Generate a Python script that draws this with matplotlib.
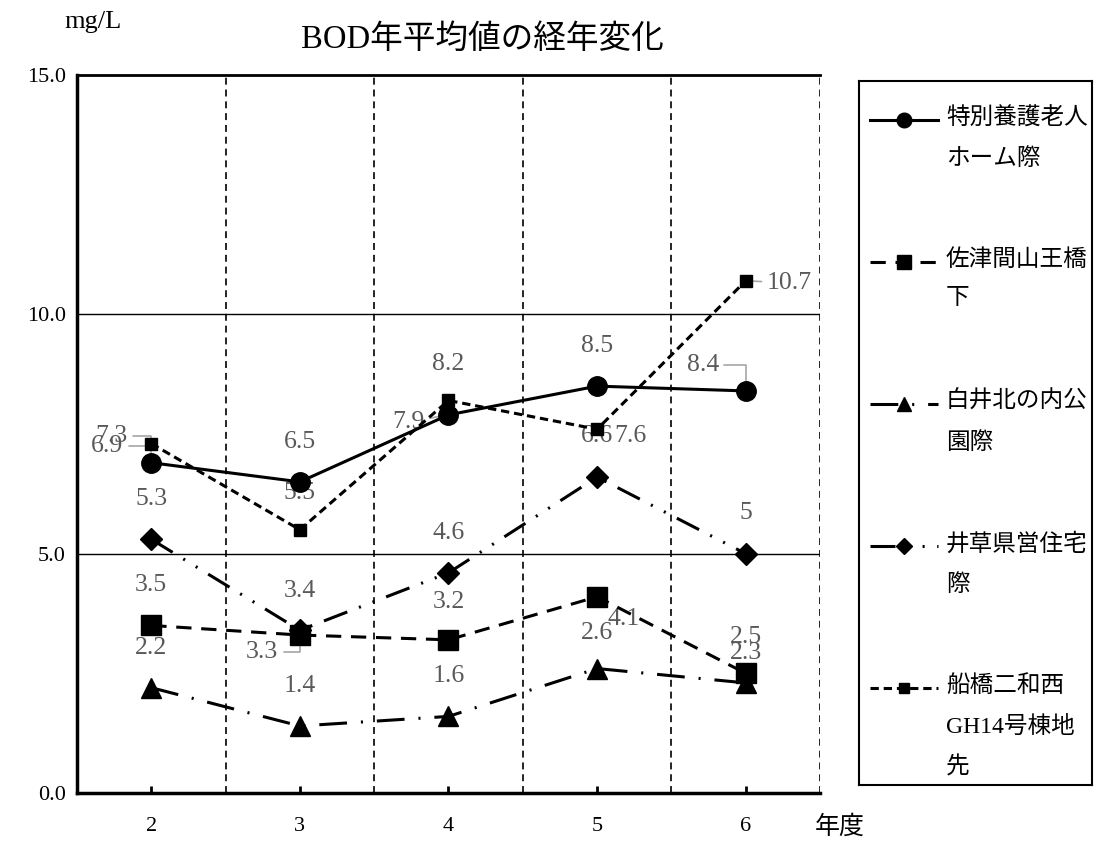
import matplotlib
matplotlib.use("Agg")
import matplotlib.pyplot as plt
from matplotlib.lines import Line2D

plt.rcParams["font.family"] = ["Liberation Serif", "Noto Sans CJK JP"]
plt.rcParams["lines.scale_dashes"] = False

# データ
years = [2, 3, 4, 5, 6]
series_names = [
    "特別養護老人\nホーム際",
    "佐津間山王橋\n下",
    "白井北の内公\n園際",
    "井草県営住宅\n際",
    "船橋二和西\nGH14号棟地\n先",
]
tokubetsu = [6.9, 6.5, 7.9, 8.5, 8.4]
satsuma = [3.5, 3.3, 3.2, 4.1, 2.5]
shiroi = [2.2, 1.4, 1.6, 2.6, 2.3]
igusa = [5.3, 3.4, 4.6, 6.6, 5.0]
funabashi = [7.3, 5.5, 8.2, 7.6, 10.7]
value_labels = [
    ["6.9", "6.5", "7.9", "8.5", "8.4"],
    ["3.5", "3.3", "3.2", "4.1", "2.5"],
    ["2.2", "1.4", "1.6", "2.6", "2.3"],
    ["5.3", "3.4", "4.6", "6.6", "5"],
    ["7.3", "5.5", "8.2", "7.6", "10.7"],
]
y_ticks = [0, 5, 10, 15]

all_values = [tokubetsu, satsuma, shiroi, igusa, funabashi]

# 線種・マーカー
styles = [
    dict(ls="-", marker="o", ms=14),
    dict(dashes=(11, 7), marker="s", ms=14),
    dict(dashes=(20, 10, 1.5, 10), marker="^", ms=14),
    dict(dashes=(18, 9, 1.5, 9, 1.5, 9), marker="D", ms=11),
    dict(dashes=(6, 3.5), marker="s", ms=9),
]

# ラベル位置 (pixel offset) と引き出し線 (None / "line" / "elbow")
offsets = [
    [(-44, 17, "elbow"), (0, 40, None), (-40, -7, "line"), (0, 40, None), (-43, 26, "elbow")],
    [(0, 40, None), (-38, -17, "elbow"), (0, 38, None), (27, -22, None), (0, 36, None)],
    [(0, 40, None), (0, 40, None), (0, 40, None), (0, 36, None), (0, 30, None)],
    [(0, 40, None), (0, 39, None), (0, 40, None), (0, 41, None), (0, 41, None)],
    [(-40, 8, "elbow"), (0, 37, None), (0, 36, None), (33, -7, None), (44, -2, "line")],
]

fig = plt.figure(figsize=(10.97, 8.44), dpi=100)
ax = fig.add_axes([77 / 1097, 51 / 844, (820 - 77) / 1097, (793 - 75) / 844])

ax.set_xlim(1.5, 6.5)
ax.set_ylim(0, 15)

for yv in [5, 10]:
    ax.axhline(yv, color="black", lw=1.0, zorder=1)
for xv in [2.5, 3.5, 4.5, 5.5, 6.5]:
    ax.axvline(xv, color="black", lw=1.2, dashes=(5, 3.5), zorder=1)

for vals, st in zip(all_values, styles):
    ax.plot(years, vals, color="black", lw=2.2, mec="black", mfc="black",
            zorder=3, **st)

for vals, labs, offs in zip(all_values, value_labels, offsets):
    for x, v, lab, (dx, dy, leader) in zip(years, vals, labs, offs):
        kw = {}
        if leader == "elbow":
            kw["arrowprops"] = dict(arrowstyle="-", color="#a6a6a6", lw=1.2,
                                    shrinkA=2, shrinkB=0,
                                    connectionstyle="angle,angleA=0,angleB=90,rad=0")
        elif leader == "line":
            kw["arrowprops"] = dict(arrowstyle="-", color="#a6a6a6", lw=1.2,
                                    shrinkA=2, shrinkB=0)
        ax.annotate(lab, (x, v), xytext=(dx, dy), textcoords="offset pixels",
                    ha="center", va="center", fontsize=18.5, color="#595959",
                    zorder=2, **kw)

ax.spines["right"].set_visible(False)
ax.spines["left"].set_linewidth(2.5)
ax.spines["bottom"].set_linewidth(2.5)
ax.spines["top"].set_linewidth(2)

ax.set_xticks(years)
ax.set_xticklabels([str(y) for y in years], fontsize=16)
ax.tick_params(axis="x", direction="in", length=5, width=2, pad=17)
ax.set_yticks(y_ticks)
ax.set_yticklabels([f"{y:.1f}" for y in y_ticks], fontsize=16)
ax.tick_params(axis="y", length=0, pad=8)

fig.text(93 / 1097, 1 - 22 / 844, "mg/L", fontsize=19, ha="center", va="center")
fig.text(482 / 1097, 1 - 40 / 844, "BOD年平均値の経年変化", fontsize=23.5,
         ha="center", va="center")
fig.text(840 / 1097, 1 - 827 / 844, "年度", fontsize=18, ha="center", va="center")

# 凡例
leg = fig.add_axes([859 / 1097, (844 - 785) / 844, (1092 - 859) / 1097, (785 - 81) / 844])
leg.set_xlim(0, 233)
leg.set_ylim(704, 0)
leg.set_xticks([])
leg.set_yticks([])
for sp in leg.spines.values():
    sp.set_linewidth(1.5)

for i, (name, st) in enumerate(zip(series_names, styles)):
    yy = 39 + i * 142
    leg.add_line(Line2D([11, 79], [yy, yy], color="black", lw=2.2,
                        **{k: v for k, v in st.items() if k not in ("marker", "ms")}))
    leg.plot([45], [yy], color="black", marker=st["marker"], ms=st["ms"] * 0.75)
    leg.text(87, yy - 13, name, fontsize=17, ha="left", va="top", linespacing=2.1)

fig.savefig("out.png", dpi=100)
